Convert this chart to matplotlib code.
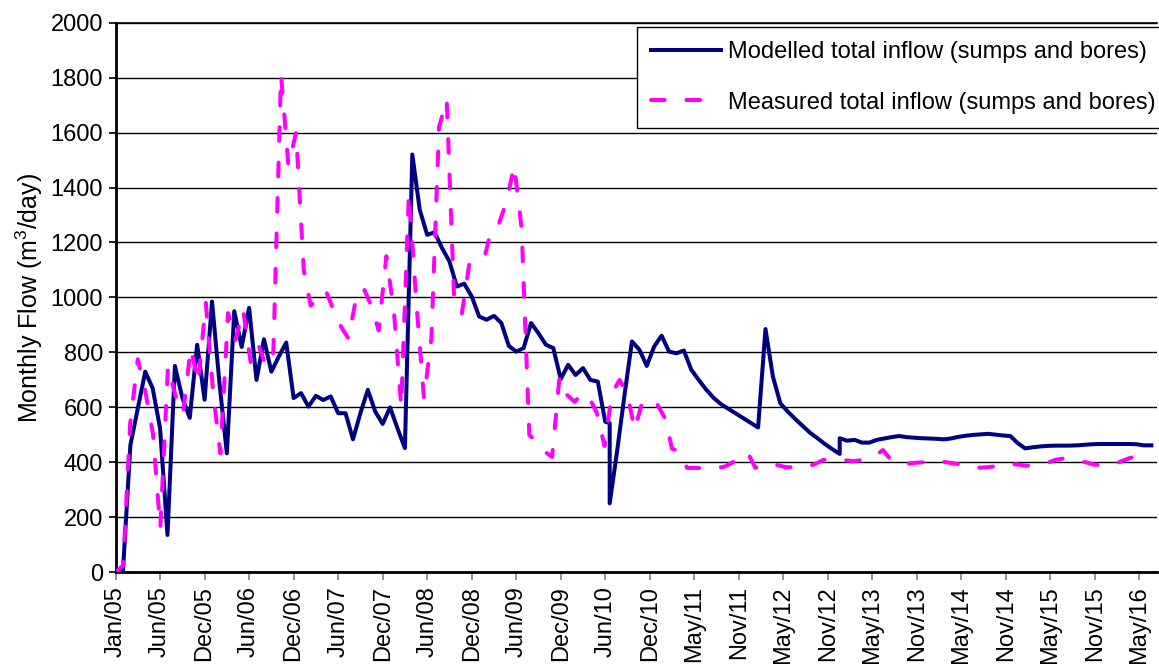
import matplotlib
matplotlib.use("Agg")
import matplotlib.pyplot as plt
import numpy as np
import pandas as pd

plt.rcParams['font.family'] = ['Liberation Sans', 'DejaVu Sans']
plt.rcParams['mathtext.fontset'] = 'custom'
plt.rcParams['mathtext.rm'] = 'Liberation Sans'

start = pd.Timestamp("2005-01-01")

# modelled inflow, one value every 30 days from day 0 (steps 0..66)
model_a = [0, 5, 463, 597, 730, 670, 524, 136, 751, 635, 562, 828, 628, 985, 690,
           433, 950, 820, 962, 700, 848, 730, 785, 836, 634, 652, 603, 642, 627, 640,
           579, 579, 484, 579, 664, 585, 540, 600, 524, 452, 1520, 1319, 1228, 1237,
           1180, 1131, 1040, 1050, 1004, 931, 919, 933, 907, 824, 803, 816, 907, 870,
           828, 816, 703, 755, 718, 743, 700, 694, 548]
# steps 67..140, shifted 12 days earlier; steps 67 and 98 hold two values
model_b_steps = [67] + list(range(67, 99)) + list(range(98, 141))
model_b = [543, 251, 441, 645, 840, 810, 751, 822, 861, 803, 797, 807, 737, 700,
           665, 635, 612, 595, 578, 561, 544, 527, 885, 712, 615, 585, 558, 533, 508,
           488, 467, 448, 431, 488, 479, 482, 472, 472, 482, 487, 492, 496, 492, 490,
           488, 487, 486, 484, 487, 493, 497, 500, 502, 504, 501, 498, 496, 470, 451,
           455, 458, 460, 461, 461, 461, 462, 464, 466, 467, 467, 467, 467, 467, 466,
           462, 462]

# measured inflow, monthly from Jan 2005
measured = [0, 26, 540, 775, 660, 505, 161, 749, 640, 579, 816, 690, 980, 640, 433,
            943, 846, 955, 765, 830, 749, 800, 1811, 1480, 1600, 1100, 970, 1000, 1025,
            955, 895, 850, 1000, 1034, 970, 880, 1150, 945, 603, 1380, 985, 634, 850,
            1620, 1720, 1000, 940, 1120, 1125, 1145, 1250, 1270, 1350, 1480, 1250, 500,
            475, 440, 420, 710, 645, 620, 652, 635, 580, 460, 650, 700, 650, 520, 620,
            630, 610, 560, 450, 440, 380, 380, 380, 380, 380, 385, 400, 415, 436, 380,
            390, 397, 390, 383, 382, 383, 385, 395, 409, 412, 411, 408, 404, 408, 415,
            425, 445, 410, 398, 394, 398, 400, 402, 404, 403, 398, 394, 390, 383, 381,
            383, 386, 390, 394, 392, 388, 390, 394, 400, 410, 414, 410, 406, 400, 392,
            390, 394, 397, 408, 418]

model_days = np.r_[30 * np.arange(len(model_a)), 30 * np.array(model_b_steps) - 12]
model_vals = np.r_[model_a, model_b]
meas_days = (pd.date_range(start, periods=len(measured), freq="MS") - start).days

tick_days = np.arange(0, 4141, 180)
tick_labels = [(start + pd.Timedelta(days=int(d))).strftime("%b/%y") for d in tick_days]

fig = plt.figure(figsize=(11.59, 6.64), dpi=100)
ax = fig.add_axes([0.0997, 0.138, 0.899, 0.828])

ax.plot(model_days, model_vals, color="#000080", lw=2.9, solid_joinstyle="round",
        label="Modelled total inflow (sumps and bores)", zorder=3)
ax.plot(meas_days, measured, color="#ff00ff", lw=2.9, dashes=(3.4, 5.4),
        dash_capstyle="round", label="Measured total inflow (sumps and bores)", zorder=4)

ax.set_xlim(0, 4213)
ax.set_ylim(0, 2000)
ax.set_yticks(np.arange(0, 2001, 200))
ax.set_xticks(tick_days)
ax.set_xticklabels(tick_labels, rotation=90)
ax.yaxis.grid(True, color="black", lw=1.0)
ax.set_axisbelow(True)
ax.tick_params(axis="both", labelsize=17, direction="out")
ax.tick_params(axis="x", length=6, width=1.2, color="#808080", pad=4)
ax.tick_params(axis="y", length=5, width=1.2, pad=4)
for s in ["left", "bottom"]:
    ax.spines[s].set_linewidth(2.0)
ax.spines["top"].set_linewidth(1.2)
ax.spines["right"].set_visible(False)

ax.set_ylabel("Monthly Flow (m$^3$/day)", fontsize=18, labelpad=4)

leg = ax.legend(loc="upper left", bbox_to_anchor=(637 / 1159, 1 - 27 / 664),
                bbox_transform=fig.transFigure, fontsize=17, frameon=True,
                fancybox=False, framealpha=1, edgecolor="black", borderpad=0.6,
                labelspacing=1.2, handlelength=2.95, handletextpad=0.3,
                borderaxespad=0)
leg.get_frame().set_linewidth(1.0)

fig.savefig("out.png", dpi=100)
